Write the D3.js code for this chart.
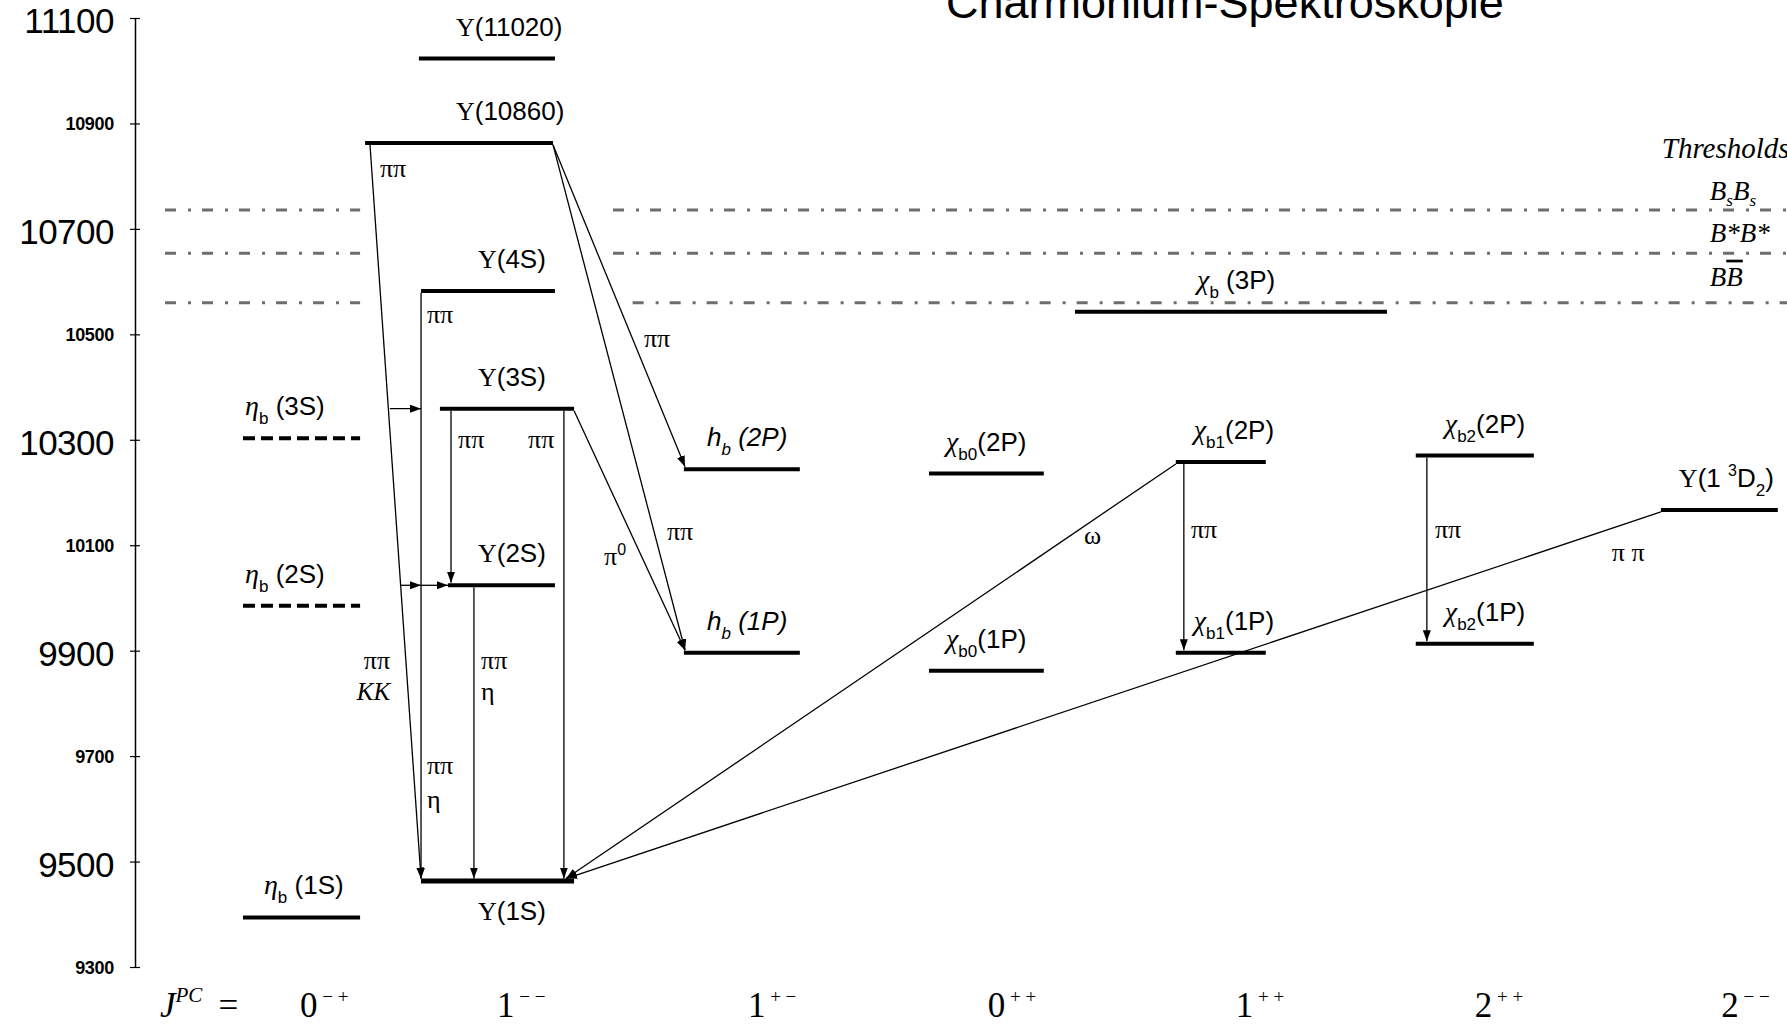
<!DOCTYPE html>
<html>
<head>
<meta charset="utf-8">
<script src="https://d3js.org/d3.v7.min.js"></script>
<style>
  body { margin: 0; background: #fff; }
  svg { display: block; }
</style>
</head>
<body>
<div id="chart"></div>
<script>
'use strict';

// ---- data ----
var title = 'Charmonium-Spektroskopie';
var massTicks = [9300, 9500, 9700, 9900, 10100, 10300, 10500, 10700, 10900, 11100];
var columns = ['0-+', '1--', '1+-', '0++', '1++', '2++', '2--'];
var columnLabels = [['0', '− +'], ['1', '− −'], ['1', '+ −'], ['0', '+ +'], ['1', '+ +'], ['2', '+ +'], ['2', '− −']];

var levelNames = ['Y11020', 'Y10860', 'Y4S', 'Y3S', 'Y2S', 'Y1S', 'etab3S', 'etab2S', 'etab1S',
  'hb2P', 'hb1P', 'chib02P', 'chib01P', 'chib3P', 'chib12P', 'chib11P', 'chib22P', 'chib21P', 'Y1D2'];
var levelColumn = ['1--', '1--', '1--', '1--', '1--', '1--', '0-+', '0-+', '0-+',
  '1+-', '1+-', '0++', '0++', '1++', '1++', '1++', '2++', '2++', '2--'];
var levelMass = [11023, 10863, 10582, 10359, 10024, 9463, 10303, 9985, 9394,
  10244, 9896, 10236, 9862, 10543, 10258, 9896, 10270, 9913, 10167];
var predictedLevels = ['etab3S', 'etab2S'];
var levelLabels = [
  [['ups', 'Υ'], ['sans', '(11020)']],
  [['ups', 'Υ'], ['sans', '(10860)']],
  [['ups', 'Υ'], ['sans', '(4S)']],
  [['ups', 'Υ'], ['sans', '(3S)']],
  [['ups', 'Υ'], ['sans', '(2S)']],
  [['ups', 'Υ'], ['sans', '(1S)']],
  [['greek', 'η'], ['sub', 'b'], ['sans', ' (3S)']],
  [['greek', 'η'], ['sub', 'b'], ['sans', ' (2S)']],
  [['greek', 'η'], ['sub', 'b'], ['sans', ' (1S)']],
  [['hi', 'h'], ['subi', 'b'], ['hi', ' (2P)']],
  [['hi', 'h'], ['subi', 'b'], ['hi', ' (1P)']],
  [['greek', 'χ'], ['sub', 'b0'], ['sans', '(2P)']],
  [['greek', 'χ'], ['sub', 'b0'], ['sans', '(1P)']],
  [['greek', 'χ'], ['sub', 'b'], ['sans', ' (3P)']],
  [['greek', 'χ'], ['sub', 'b1'], ['sans', '(2P)']],
  [['greek', 'χ'], ['sub', 'b1'], ['sans', '(1P)']],
  [['greek', 'χ'], ['sub', 'b2'], ['sans', '(2P)']],
  [['greek', 'χ'], ['sub', 'b2'], ['sans', '(1P)']],
  [['ups', 'Υ'], ['sans', '(1 '], ['sup', '3'], ['sans', 'D'], ['sub', '2'], ['sans', ')']]
];

var thresholdMass = [10736, 10654, 10560];
var thresholdLabels = [
  [['it', 'B'], ['subt', 's'], ['it', 'B'], ['subt', 's']],
  [['it', 'B*B*']],
  [['it', 'B'], ['itbar', 'B']]
];

var transFrom = ['Y10860', 'Y4S', 'Y3S', 'Y2S', 'Y3S', 'Y10860', 'Y10860', 'Y3S', 'chib12P', 'Y1D2', 'chib12P', 'chib22P'];
var transTo = ['Y1S', 'Y1S', 'Y2S', 'Y1S', 'Y1S', 'hb2P', 'hb1P', 'hb1P', 'Y1S', 'Y1S', 'chib11P', 'chib21P'];
var branchLevel = ['Y3S', 'Y2S', 'Y2S'];

var transLabels = [
  [['pi', 'ππ']], [['pi', 'ππ']], [['pi', 'ππ']], [['pi', 'ππ']],
  [['pi', 'ππ']], [['ki', 'KK']],
  [['pi', 'ππ']], [['pi', 'η']],
  [['pi', 'ππ']], [['pi', 'η']],
  [['pi', 'ππ']], [['pi', 'ππ']],
  [['pi', 'π'], ['supp', '0']],
  [['pi', 'ω']], [['pi', 'ππ']], [['pi', 'ππ']], [['pi', 'π π']]
];

// ---- layout (column units on x, mass on y) ----
var layout = {
  bars: {
    Y11020: [0.495, 1.071, 0.652], Y10860: [0.267, 1.063, 0.652], Y4S: [0.504, 1.071, 0.745],
    Y3S: [0.584, 1.152, 0.745], Y2S: [0.618, 1.071, 0.745], Y1S: [0.504, 1.152, 0.745],
    etab3S: [-0.25, 0.246, -0.241], etab2S: [-0.25, 0.246, -0.241], etab1S: [-0.25, 0.246, -0.161],
    hb2P: [1.617, 2.108, 1.715], hb1P: [1.617, 2.108, 1.715],
    chib02P: [2.655, 3.141, 2.727], chib01P: [2.655, 3.141, 2.727],
    chib3P: [3.273, 4.594, 3.79],
    chib12P: [3.70, 4.081, 3.776], chib11P: [3.70, 4.081, 3.776],
    chib22P: [4.716, 5.216, 4.839], chib21P: [4.716, 5.216, 4.839],
    Y1D2: [5.754, 6.249, 5.83]
  },
  labelBelow: ['Y1S'],
  trans: [[0.288, 0.504], [0.504, 0.504], [0.631, 0.631], [0.728, 0.728], [1.109, 1.109],
    [1.063, 1.622], [1.063, 1.622], [1.152, 1.622], [3.70, 1.118], [5.754, 1.118],
    [3.734, 3.734], [4.763, 4.763]],
  branches: [[0.372, 0.504], [0.415, 0.504], [0.504, 0.618]],
  transLabels: [
    [0.330, 10809, 'start'], [0.529, 10532, 'start'], [0.661, 10295, 'start'], [0.957, 10295, 'start'],
    [0.373, 9877, 'end'], [0.373, 9818, 'end'],
    [0.758, 9877, 'start'], [0.758, 9818, 'start'],
    [0.529, 9678, 'start'], [0.529, 9613, 'start'],
    [1.448, 10487, 'start'], [1.545, 10122, 'start'], [1.279, 10073, 'start'],
    [3.311, 10113, 'start'], [3.764, 10126, 'start'], [4.797, 10126, 'start'], [5.546, 10082, 'start']
  ],
  thresholdSegs: [[-0.58, 0.246], [1.317, 6.3], [1.317, 6.3], [1.40, 6.3]],
  thresholdLabelX: 5.961,
  thresholdLabelDy: [-10, -11, -17],
  columnLabelX: [-0.008, 0.826, 1.888, 2.904, 3.954, 4.966, 6.01]
};

// ---- drawing ----
var W = 1787, H = 1024, axisX = 135;
var SANS = '"Liberation Sans", Arial, sans-serif';
var SERIF = '"Liberation Serif", "Times New Roman", serif';

var x = d3.scaleLinear().domain([0, columns.length - 1]).range([302, 1719]);
var y = d3.scaleLinear().domain([9300, 11100]).range([967, 18]);

var styles = {
  ups:   {f: SERIF, s: 26},
  sans:  {f: SANS, s: 26},
  greek: {f: SERIF, s: 28, i: true},
  hi:    {f: SANS, s: 26, i: true},
  sub:   {f: SANS, s: 17, sh: 9},
  subi:  {f: SANS, s: 17, sh: 9, i: true},
  sup:   {f: SANS, s: 16, sh: -11},
  pi:    {f: SERIF, s: 26},
  ki:    {f: SERIF, s: 25, i: true},
  supp:  {f: SANS, s: 16, sh: -10},
  it:    {f: SERIF, s: 27, i: true},
  itbar: {f: SERIF, s: 27, i: true, deco: 'overline'},
  subt:  {f: SERIF, s: 17, sh: 6, i: true},
  jd:    {f: SERIF, s: 35},
  ji:    {f: SERIF, s: 35, i: true},
  js:    {f: SERIF, s: 19, sh: -14},
  jsi:   {f: SERIF, s: 21, sh: -15, i: true}
};

function rich(g, parts, px, py, anchor) {
  var t = g.append('text').attr('x', px).attr('y', py).attr('text-anchor', anchor || 'start').attr('fill', '#000');
  var shift = 0;
  parts.forEach(function (p) {
    var st = styles[p[0]], target = st.sh || 0;
    var ts = t.append('tspan').attr('dy', target - shift)
      .style('font-family', st.f).style('font-size', st.s + 'px')
      .style('font-style', st.i ? 'italic' : 'normal')
      .text(p[1]);
    if (p[2]) ts.attr('dx', p[2]);
    if (st.deco) ts.style('text-decoration', st.deco);
    shift = target;
  });
  return t;
}

var svg = d3.select('#chart').append('svg').attr('width', W).attr('height', H);

svg.append('defs').append('marker')
  .attr('id', 'arr').attr('markerUnits', 'userSpaceOnUse')
  .attr('viewBox', '0 0 11 8').attr('refX', 11).attr('refY', 4)
  .attr('markerWidth', 11).attr('markerHeight', 8).attr('orient', 'auto')
  .append('path').attr('d', 'M0,0L11,4L0,8Z').attr('fill', '#000');

// title (top cut off like the original)
svg.append('text').attr('x', 946).attr('y', 18)
  .style('font-family', SANS).style('font-size', '45px').text(title);

// y axis
var yAxis = d3.axisLeft(y).tickValues(massTicks).tickSizeInner(5).tickSizeOuter(0)
  .tickPadding(16).tickFormat(d3.format('d'));
var ag = svg.append('g').attr('transform', 'translate(' + axisX + ',0)').call(yAxis);
ag.select('.domain').attr('stroke', '#000').attr('stroke-width', 1.5);
ag.selectAll('.tick line').attr('x1', 5).attr('stroke', '#000').attr('stroke-width', 1.2);
ag.selectAll('.tick text').each(function (d, i) {
  var big = i % 2 === 1;
  d3.select(this).attr('fill', '#000')
    .attr('dy', big ? '0.42em' : '0.36em')
    .style('font-family', SANS)
    .style('font-size', big ? '35px' : '18px')
    .style('font-weight', big ? 'normal' : 'bold')
    .style('letter-spacing', big ? '-0.5px' : '-0.3px');
});

// thresholds
var thr = svg.append('g');
thresholdMass.forEach(function (m, i) {
  var segs = [layout.thresholdSegs[0], layout.thresholdSegs[i + 1]];
  segs.forEach(function (s) {
    thr.append('line')
      .attr('x1', x(s[0])).attr('x2', x(s[1]))
      .attr('y1', y(m)).attr('y2', y(m))
      .attr('stroke', '#6e6e6e').attr('stroke-width', 3)
      .attr('stroke-dasharray', '11,12,3,11');
  });
  rich(thr, thresholdLabels[i], x(layout.thresholdLabelX), y(m) + layout.thresholdLabelDy[i]);
});
var thrTitle = rich(thr, [['it', 'Thresholds']], x(layout.thresholdLabelX) - 48, y(thresholdMass[0]) - 52);
thrTitle.select('tspan').style('font-size', '29px');

// levels
var levels = levelNames.map(function (n, i) {
  var b = layout.bars[n];
  return {name: n, col: levelColumn[i], mass: levelMass[i], x0: b[0], x1: b[1], lx: b[2],
    dashed: predictedLevels.indexOf(n) >= 0, label: levelLabels[i]};
});
var byName = {};
levels.forEach(function (d) { byName[d.name] = d; });

svg.append('g').selectAll('line').data(levels).join('line')
  .attr('x1', function (d) { return x(d.x0); })
  .attr('x2', function (d) { return x(d.x1); })
  .attr('y1', function (d) { return y(d.mass); })
  .attr('y2', function (d) { return y(d.mass); })
  .attr('stroke', '#000')
  .attr('stroke-width', function (d) { return d.name === 'Y1S' ? 5 : 4; })
  .attr('stroke-dasharray', function (d) { return d.dashed ? '12,6' : null; });

var lg = svg.append('g');
levels.forEach(function (d) {
  var below = layout.labelBelow.indexOf(d.name) >= 0;
  rich(lg, d.label, x(d.lx), y(d.mass) + (below ? 39 : -23));
});

// transitions
var tg = svg.append('g');
transFrom.forEach(function (f, i) {
  var a = byName[f], b = byName[transTo[i]], p = layout.trans[i];
  var down = y(b.mass) > y(a.mass);
  tg.append('line')
    .attr('x1', x(p[0])).attr('y1', y(a.mass) + (down ? 2 : 0))
    .attr('x2', x(p[1])).attr('y2', y(b.mass) - 2.5)
    .attr('stroke', '#000').attr('stroke-width', 1.3)
    .attr('marker-end', 'url(#arr)');
});
branchLevel.forEach(function (n, i) {
  var p = layout.branches[i];
  tg.append('line')
    .attr('x1', x(p[0])).attr('x2', x(p[1]))
    .attr('y1', y(byName[n].mass)).attr('y2', y(byName[n].mass))
    .attr('stroke', '#000').attr('stroke-width', 1.3)
    .attr('marker-end', 'url(#arr)');
});
transLabels.forEach(function (parts, i) {
  var p = layout.transLabels[i];
  rich(tg, parts, x(p[0]), y(p[1]) + 6, p[2]);
});

// J^PC row
var jg = svg.append('g');
rich(jg, [['ji', 'J'], ['jsi', 'PC'], ['jd', '=', 16]], 160, 1017);
columnLabels.forEach(function (c, i) {
  rich(jg, [['jd', c[0]], ['js', ' ' + c[1]]], x(layout.columnLabelX[i]), 1017);
});
</script>
</body>
</html>
